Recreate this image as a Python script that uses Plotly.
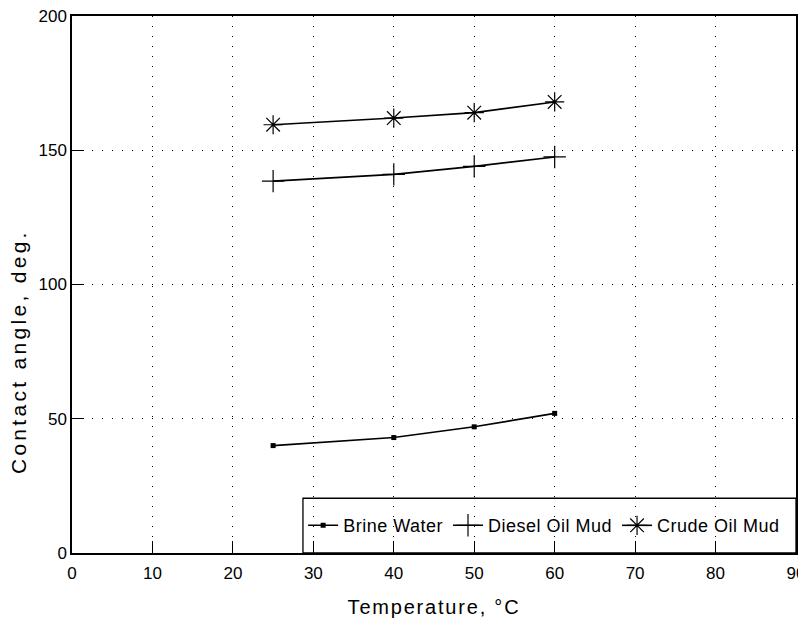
import plotly.graph_objects as go

temperature = [25, 40, 50, 60]
brine_water = [40, 43, 47, 52]
diesel_oil_mud = [138.5, 141, 144, 147.5]
crude_oil_mud = [159.5, 162, 164, 168]

x_ticks = [0, 10, 20, 30, 40, 50, 60, 70, 80, 90]
y_ticks = [0, 50, 100, 150, 200]

font = "Liberation Sans, Arial, sans-serif"


def spaced(text, px):
    return f'<span style="letter-spacing:{px}px">{text}</span>'


fig = go.Figure()
fig.add_trace(go.Scatter(
    x=temperature, y=brine_water, name=spaced("Brine Water", 0.5), mode="lines+markers",
    line=dict(color="black", width=1.6),
    marker=dict(symbol="square", size=5, color="black")))
fig.add_trace(go.Scatter(
    x=temperature, y=diesel_oil_mud, name=spaced("Diesel Oil Mud", 0.5), mode="lines+markers",
    line=dict(color="black", width=1.6),
    marker=dict(symbol="cross-thin", size=16, line=dict(color="black", width=1.2))))
fig.add_trace(go.Scatter(
    x=temperature, y=crude_oil_mud, name=spaced("Crude Oil Mud", 0.5), mode="lines+markers",
    line=dict(color="black", width=1.6),
    marker=dict(symbol="asterisk", size=16, line=dict(color="black", width=1.2))))

axis_common = dict(
    showline=True, linecolor="black", linewidth=1.5, mirror=True,
    showgrid=True, gridcolor="black", gridwidth=1, griddash="1px,9px",
    ticks="inside", ticklen=12, tickcolor="black", tickwidth=1,
    zeroline=False, automargin=False, ticklabeloverflow="allow",
    tickfont=dict(size=17, color="black", family=font),
)

fig.update_xaxes(range=[0, 90], tickvals=x_ticks, ticktext=[str(v) for v in x_ticks],
                 ticklabelstandoff=4,
                 title=dict(text=spaced("Temperature, °C", 1.8),
                            font=dict(size=20, color="black", family=font), standoff=18),
                 **axis_common)
fig.update_yaxes(range=[0, 200], tickvals=y_ticks, ticktext=[str(v) for v in y_ticks],
                 **axis_common)

# y-axis title (placed lower than centre, as in the reference)
fig.add_annotation(text=spaced("Contact angle, deg.", 3.3), textangle=-90,
                   xref="paper", yref="paper", x=-0.0746, y=0.376,
                   xanchor="center", yanchor="middle", showarrow=False,
                   font=dict(size=21, color="black", family=font))

# legend frame (lower-right box inside the plot)
fig.add_shape(type="rect", xref="paper", yref="paper", x0=0.319, x1=1.0, y0=0.0, y1=0.102,
              line=dict(color="black", width=1.3), fillcolor="rgba(0,0,0,0)", layer="above")

fig.update_layout(
    width=798, height=622,
    margin=dict(l=64, r=10, t=8, b=77),
    paper_bgcolor="white", plot_bgcolor="white",
    font=dict(family=font, color="black"),
    legend=dict(orientation="h", x=0.985, y=0.051, xanchor="right", yanchor="middle",
                borderwidth=0, bgcolor="rgba(0,0,0,0)",
                font=dict(size=18, color="black", family=font),
                itemwidth=30, tracegroupgap=0),
)

fig.write_html("out.html")
